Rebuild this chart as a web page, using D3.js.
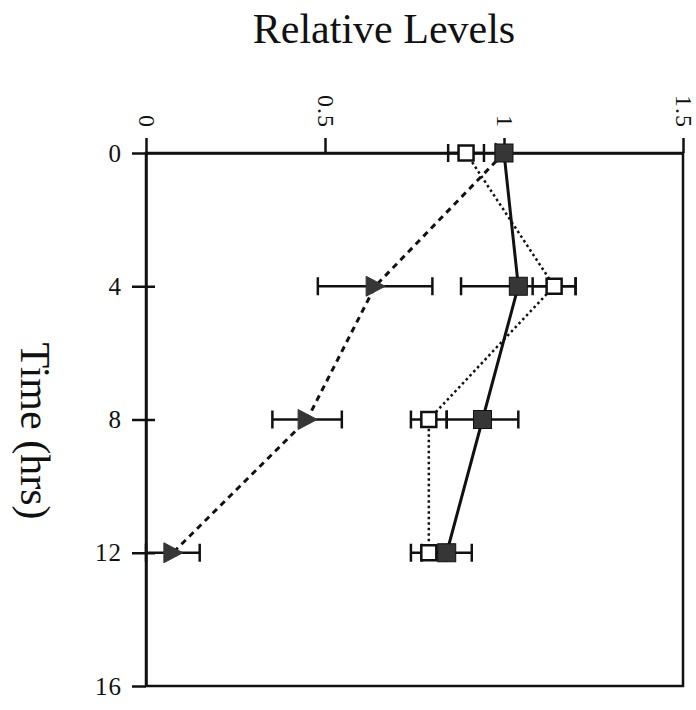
<!DOCTYPE html>
<html>
<head>
<meta charset="utf-8">
<script src="https://cdn.jsdelivr.net/npm/d3@7"></script>
<style>
  html, body { margin: 0; padding: 0; background: #fff; }
  svg { display: block; }
  text { font-family: "Liberation Serif", "Times New Roman", serif; fill: #111; }
</style>
</head>
<body>
<svg id="chart" width="696" height="710"></svg>
<script>
// Sampling times (hrs)
const times = [0, 4, 8, 12];

// Filled squares, solid line
const filledVals = [1.0, 1.04, 0.94, 0.84];
const filledErr  = [0.02, 0.16, 0.10, 0.07];

// Open squares, dotted line
const openVals = [0.894, 1.14, 0.79, 0.79];
const openErr  = [0.05, 0.06, 0.05, 0.05];

// Filled triangles, dashed line
const triVals = [1.0, 0.64, 0.45, 0.075];
const triErr  = [0.0, 0.16, 0.097, 0.075];

// Axis ticks
const levelTicks = [0, 0.5, 1, 1.5];
const levelLabels = ["0", "0.5", "1", "1.5"];
const timeTicks = [0, 4, 8, 12, 16];
const timeLabels = ["0", "4", "8", "12", "16"];

const svg = d3.select("#chart");
const ink = "#111";
const fillDark = "#363636";
const serif = "Liberation Serif, Times New Roman, serif";

const x = d3.scaleLinear().domain([0, 1.5]).range([146, 683]);
const y = d3.scaleLinear().domain([0, 16]).range([153, 686]);

// Titles
svg.append("text")
  .attr("x", 384).attr("y", 43)
  .attr("text-anchor", "middle")
  .attr("font-size", 42)
  .text("Relative Levels");

svg.append("text")
  .attr("transform", "translate(21,431) rotate(90)")
  .attr("text-anchor", "middle")
  .attr("font-size", 42)
  .text("Time (hrs)");

// Plot frame
svg.append("rect")
  .attr("x", x(0)).attr("y", y(0))
  .attr("width", x(1.5) - x(0)).attr("height", y(16) - y(0))
  .attr("fill", "none").attr("stroke", ink).attr("stroke-width", 2.5);

// Top axis: relative levels
const topAxis = svg.append("g")
  .attr("transform", `translate(0,${y(0)})`)
  .call(d3.axisTop(x).tickValues(levelTicks)
    .tickFormat((d, i) => levelLabels[i])
    .tickSize(15).tickSizeOuter(0));
topAxis.select(".domain").attr("stroke", ink).attr("stroke-width", 2.5);
topAxis.selectAll(".tick line").attr("stroke", ink).attr("stroke-width", 2.5);
topAxis.selectAll(".tick text")
  .attr("x", 0).attr("y", 0).attr("dy", "0.33em")
  .attr("text-anchor", "end")
  .attr("transform", "translate(0,-25) rotate(90)")
  .attr("font-size", 24)
  .attr("letter-spacing", 1)
  .attr("font-family", serif)
  .attr("fill", ink);

// Left axis: time
const leftAxis = svg.append("g")
  .attr("transform", `translate(${x(0)},0)`)
  .call(d3.axisLeft(y).tickValues(timeTicks)
    .tickFormat((d, i) => timeLabels[i])
    .tickSize(14).tickPadding(10).tickSizeOuter(0));
leftAxis.select(".domain").attr("stroke", ink).attr("stroke-width", 2.5);
leftAxis.selectAll(".tick line")
  .attr("stroke", ink).attr("stroke-width", 2.5)
  .attr("x1", d => (d > 0 && d < 16) ? 9 : 0);
leftAxis.selectAll(".tick text")
  .attr("font-size", 25)
  .attr("letter-spacing", 1)
  .attr("font-family", serif)
  .attr("fill", ink);

// Series definitions
const series = [
  { vals: triVals, err: triErr, dash: "6,5", width: 3, marker: "tri" },
  { vals: filledVals, err: filledErr, dash: null, width: 3, marker: "filled" },
  { vals: openVals, err: openErr, dash: "2.5,3", width: 2.5, marker: "open" }
];

const line = d3.line().x(d => x(d.v)).y(d => y(d.t));

// Connecting lines
series.forEach(s => {
  const pts = times.map((t, i) => ({ t, v: s.vals[i] }));
  svg.append("path")
    .datum(pts)
    .attr("d", line)
    .attr("fill", "none")
    .attr("stroke", ink)
    .attr("stroke-width", s.width)
    .attr("stroke-dasharray", s.dash);
});

// Error bars
const capHalf = 9;
series.forEach(s => {
  const g = svg.append("g").attr("stroke", ink).attr("stroke-width", 2.5);
  times.forEach((t, i) => {
    const e = s.err[i];
    if (e <= 0) return;
    const lo = s.vals[i] - e, hi = s.vals[i] + e;
    g.append("line").attr("x1", x(lo)).attr("x2", x(hi)).attr("y1", y(t)).attr("y2", y(t));
    [lo, hi].forEach(v => {
      g.append("line").attr("x1", x(v)).attr("x2", x(v))
        .attr("y1", y(t) - capHalf).attr("y2", y(t) + capHalf);
    });
  });
});

// Markers
series.forEach(s => {
  const g = svg.append("g");
  times.forEach((t, i) => {
    const cx = x(s.vals[i]), cy = y(t);
    if (s.marker === "tri") {
      g.append("path")
        .attr("d", `M${cx - 9},${cy - 10}L${cx + 10},${cy}L${cx - 9},${cy + 10}Z`)
        .attr("fill", fillDark).attr("stroke", fillDark).attr("stroke-width", 1);
    } else if (s.marker === "filled") {
      g.append("rect")
        .attr("x", cx - 9).attr("y", cy - 9).attr("width", 18).attr("height", 18)
        .attr("fill", fillDark).attr("stroke", ink).attr("stroke-width", 1);
    } else {
      g.append("rect")
        .attr("x", cx - 7.5).attr("y", cy - 7.5).attr("width", 15).attr("height", 15)
        .attr("fill", "#fff").attr("stroke", ink).attr("stroke-width", 2.5);
    }
  });
});
</script>
</body>
</html>
